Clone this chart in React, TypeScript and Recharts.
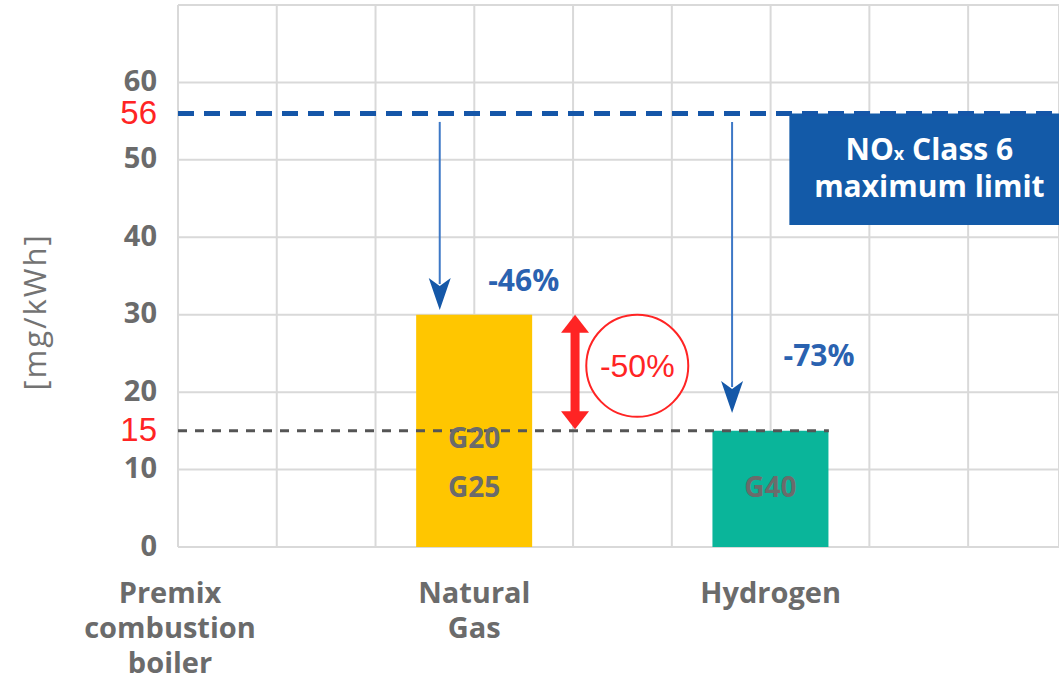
import {
  BarChart,
  Bar,
  XAxis,
  YAxis,
  CartesianGrid,
  ReferenceLine,
  ReferenceArea,
  ReferenceDot,
  LabelList,
  Cell,
} from 'recharts';

// chart data
const categories = ['Premix\ncombustion\nboiler', 'Natural\nGas', 'Hydrogen'];
const noxValues = [null, 30, 15];
const gasGrades = ['', 'G20\nG25', 'G40'];
const barColors = ['#ffc600', '#ffc600', '#0ab59a'];

const yTicks = [0, 10, 15, 20, 30, 40, 50, 56, 60];
const yGrid = [0, 10, 20, 30, 40, 50, 60, 70];
const xGrid = [0, 1, 2, 3, 4, 5, 6, 7, 8];
const redTicks = [15, 56];

const classSixLimit = 56;
const hydrogenLimit = 15;
const naturalGasCut = '-46%';
const hydrogenCut = '-73%';
const gasToHydrogenCut = '-50%';

const rows = categories.map((name, i) => ({
  slot: i * 3,
  name,
  value: noxValues[i],
  grade: gasGrades[i],
}));

const FONT = '"Open Sans", "Noto Sans", sans-serif';
const ARIAL = '"Liberation Sans", Arial, sans-serif';
const BLUE = '#1558a8';
const RED = '#ff2424';
const GREY = '#6b6b6b';

const YTick = ({ x, y, payload }: any) => {
  const red = redTicks.includes(payload.value);
  return (
    <text
      x={x}
      y={red ? y - 1 : y - 3}
      textAnchor="end"
      dominantBaseline="central"
      fill={red ? RED : GREY}
      fontSize={red ? 33 : 29}
      fontWeight={red ? 400 : 700}
      fontFamily={red ? ARIAL : FONT}
    >
      {payload.value}
    </text>
  );
};

const CategoryTick = ({ x, y, payload }: any) => {
  const row = rows.find((r) => r.slot === payload.value);
  if (!row) return <g />;
  // first label sits a little left of the axis in the source
  const cx = row.slot === 0 ? x - 8 : x;
  return (
    <text textAnchor="middle" fill={GREY} fontSize={29} fontWeight={700} fontFamily={FONT}>
      {row.name.split('\n').map((line, i) => (
        <tspan key={i} x={cx} y={y + 36 + i * 35} dominantBaseline="central">
          {line}
        </tspan>
      ))}
    </text>
  );
};

const GradeLabel = (props: any) => {
  const vb = props.viewBox && props.viewBox.width != null ? props.viewBox : props;
  if (!props.value) return null;
  const lines = String(props.value).split('\n');
  const cx = vb.x + vb.width / 2;
  const bottom = vb.y + vb.height;
  return (
    <text textAnchor="middle" fill={GREY} fontSize={28} fontWeight={700} fontFamily={FONT}>
      {lines.map((line, i) => (
        <tspan key={i} x={cx} y={bottom - 61 - (lines.length - 1 - i) * 49} dominantBaseline="central">
          {line}
        </tspan>
      ))}
    </text>
  );
};

const BlueArrow = ({ x1, y1, x2, y2 }: any) => {
  const head = 32;
  const hw = 11;
  return (
    <g>
      <line x1={x1} y1={y1} x2={x2} y2={y2 - head + 6} stroke="#3d78c6" strokeWidth={2} />
      <polygon
        points={`${x2 - hw},${y2 - head} ${x2},${y2 - head + 8} ${x2 + hw},${y2 - head} ${x2},${y2}`}
        fill={BLUE}
      />
    </g>
  );
};

const RedDoubleArrow = ({ x1, y1, x2, y2 }: any) => {
  const head = 18;
  const hw = 14;
  const top = Math.min(y1, y2);
  const bot = Math.max(y1, y2);
  return (
    <g fill={RED}>
      <rect x={x1 - 4.5} y={top + head - 2} width={9} height={bot - top - 2 * head + 4} />
      <polygon points={`${x1},${top} ${x1 + hw},${top + head} ${x1 - hw},${top + head}`} />
      <polygon points={`${x1},${bot} ${x1 + hw},${bot - head} ${x1 - hw},${bot - head}`} />
    </g>
  );
};

const CircleLabel = ({ cx, cy }: any) => (
  <g>
    <circle cx={cx} cy={cy} r={51} fill="#fff" stroke={RED} strokeWidth={2} />
    <text x={cx} y={cy} textAnchor="middle" dominantBaseline="central" fill={RED} fontSize={32} fontFamily={ARIAL}>
      {gasToHydrogenCut}
    </text>
  </g>
);

const PercentLabel = (text: string) => ({ cx, cy }: any) => (
  <text x={cx} y={cy} textAnchor="middle" dominantBaseline="central" fill="#2a62b0" fontSize={30} fontWeight={700} fontFamily={FONT}>
    {text}
  </text>
);

const LimitBoxLabel = ({ viewBox }: any) => {
  const cx = viewBox.x + 140;
  return (
    <text textAnchor="middle" fill="#fff" fontSize={30} fontWeight={700} fontFamily={FONT}>
      <tspan x={cx} y={viewBox.y + 35} dominantBaseline="central">
        NO<tspan fontSize={18} dy={5}>x</tspan>
        <tspan dy={-5}> Class 6</tspan>
      </tspan>
      <tspan x={cx} y={viewBox.y + 72} dominantBaseline="central">
        maximum limit
      </tspan>
    </text>
  );
};

const UnitLabel = ({ viewBox }: any) => (
  <text
    x={viewBox.x + 34}
    y={viewBox.y + 307}
    transform={`rotate(-90, ${viewBox.x + 34}, ${viewBox.y + 307})`}
    textAnchor="middle"
    dominantBaseline="central"
    fill="#737373"
    fontSize={31}
    letterSpacing={2}
    fontFamily={FONT}
  >
    [mg/kWh]
  </text>
);

export default function App() {
  return (
    <div style={{ position: 'absolute', left: 0, top: 0, width: 1059, height: 677, background: '#fff' }}>
      <BarChart width={1059} height={677} data={rows} margin={{ top: 5, right: 0, bottom: 0, left: 0 }}>
        <CartesianGrid stroke="#d9d9d9" strokeWidth={2} horizontalValues={yGrid} />
        <XAxis
          dataKey="slot"
          type="number"
          domain={[0, 8.92]}
          ticks={xGrid}
          interval={0}
          height={130}
          axisLine={false}
          tickLine={false}
          tick={CategoryTick}
        />
        <YAxis
          type="number"
          domain={[0, 70]}
          ticks={yTicks}
          interval={0}
          width={178}
          axisLine={false}
          tickLine={false}
          tickMargin={15}
          tick={YTick}
          label={UnitLabel}
        />
        <ReferenceArea x1={6.19} x2={8.92} y1={41.6} y2={classSixLimit} fill="#135aa8" fillOpacity={1} stroke="none" label={LimitBoxLabel} />
        <Bar dataKey="value" barSize={116} isAnimationActive={false}>
          {rows.map((r, i) => (
            <Cell key={r.slot} fill={barColors[i]} />
          ))}
          <LabelList dataKey="grade" content={GradeLabel} />
        </Bar>
        <ReferenceLine y={classSixLimit} stroke="#1556a8" strokeWidth={5} strokeDasharray="16 10" />
        <ReferenceLine
          segment={[{ x: 0, y: hydrogenLimit }, { x: 6.59, y: hydrogenLimit }]}
          stroke="#555"
          strokeWidth={3}
          strokeDasharray="9 8"
        />
        <ReferenceLine segment={[{ x: 2.65, y: 54.9 }, { x: 2.65, y: 30.6 }]} shape={BlueArrow} />
        <ReferenceLine segment={[{ x: 5.61, y: 54.9 }, { x: 5.61, y: 17.3 }]} shape={BlueArrow} />
        <ReferenceLine segment={[{ x: 4.02, y: 30 }, { x: 4.02, y: 15.2 }]} shape={RedDoubleArrow} />
        <ReferenceDot x={4.65} y={23.4} r={51} shape={CircleLabel} />
        <ReferenceDot x={3.5} y={34.5} r={1} shape={PercentLabel(naturalGasCut)} />
        <ReferenceDot x={6.49} y={24.8} r={1} shape={PercentLabel(hydrogenCut)} />
      </BarChart>
    </div>
  );
}
